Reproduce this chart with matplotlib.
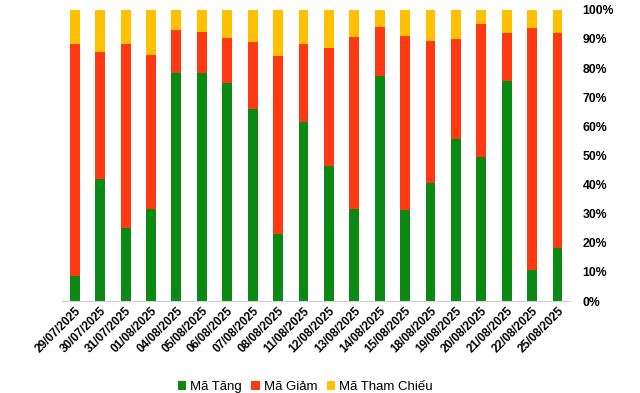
import matplotlib

matplotlib.use("Agg")

import matplotlib.pyplot as plt
import numpy as np
from matplotlib.ticker import PercentFormatter

plt.rcParams["font.family"] = ["Liberation Sans", "DejaVu Sans"]

dates = [
    "29/07/2025", "30/07/2025", "31/07/2025", "01/08/2025", "04/08/2025",
    "05/08/2025", "06/08/2025", "07/08/2025", "08/08/2025", "11/08/2025",
    "12/08/2025", "13/08/2025", "14/08/2025", "15/08/2025", "18/08/2025",
    "19/08/2025", "20/08/2025", "21/08/2025", "22/08/2025", "25/08/2025",
]
ma_tang = [8.6, 41.9, 25.1, 31.6, 78.4, 78.4, 74.9, 66.0, 23.0, 61.5,
           46.5, 31.6, 77.3, 31.3, 40.5, 55.7, 49.5, 75.6, 10.7, 18.2]
ma_giam = [79.7, 43.7, 63.2, 52.9, 14.7, 14.0, 15.5, 23.0, 61.2, 26.8,
           40.4, 59.1, 16.9, 59.8, 48.8, 34.3, 45.7, 16.5, 83.1, 73.9]
ma_tham_chieu = [11.7, 14.4, 11.7, 15.5, 6.9, 7.6, 9.6, 11.0, 15.8, 11.7,
                 13.1, 9.3, 5.8, 8.9, 10.7, 10.0, 4.8, 7.9, 6.2, 7.9]

x = np.arange(len(dates))
tang = np.array(ma_tang)
giam = np.array(ma_giam)
tc = np.array(ma_tham_chieu)

fig = plt.figure(figsize=(6.4, 3.93), dpi=100)
ax = fig.add_axes([0.097, 0.234, 0.794, 0.741])

w = 0.39
ax.bar(x, tang, w, color="#0A8A12", label="Mã Tăng")
ax.bar(x, giam, w, bottom=tang, color="#FF3A12", label="Mã Giảm")
ax.bar(x, tc, w, bottom=tang + giam, color="#FFC000", label="Mã Tham Chiếu")

ax.set_xlim(-0.5, len(dates) - 0.5)
ax.set_ylim(0, 100)
ax.set_yticks(np.arange(0, 101, 10))
ax.yaxis.set_major_formatter(PercentFormatter(decimals=0))
ax.yaxis.tick_right()
ax.tick_params(axis="y", length=0, pad=9, labelsize=8.8)
ax.tick_params(axis="x", length=0, pad=3, labelsize=8.5)
for lab in ax.get_yticklabels():
    lab.set_fontweight("bold")

ax.set_xticks(x)
ax.set_xticklabels(dates, rotation=45, ha="right", rotation_mode="anchor",
                   fontweight="bold")

for side in ("top", "left", "right"):
    ax.spines[side].set_visible(False)
ax.spines["bottom"].set_color("#D0D0D0")

fig.legend(loc="lower center", bbox_to_anchor=(0.477, -0.03), ncol=3, frameon=False,
           fontsize=9.5, handlelength=0.65, handleheight=0.65, handletextpad=0.3,
           columnspacing=0.7)

fig.savefig("out.png", dpi=100)
plt.close(fig)
